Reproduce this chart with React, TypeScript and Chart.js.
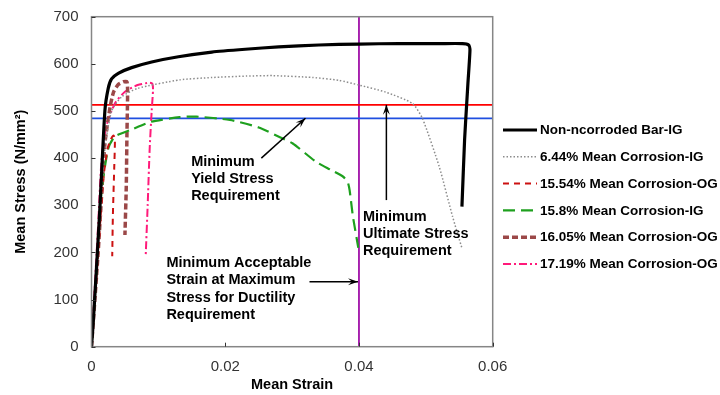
import React, { useEffect, useRef } from "react";
import { Chart, registerables } from "chart.js";

Chart.register(...registerables);

// ---- Data (strain, stress) ----
const blackStrain = [0, 0.0003, 0.0012, 0.002, 0.0025, 0.003, 0.004, 0.006, 0.009, 0.013, 0.018, 0.023, 0.028, 0.034, 0.04, 0.046, 0.052, 0.0555, 0.0564, 0.0566, 0.0563, 0.0561, 0.0558, 0.0554];
const blackStress = [0, 60, 280, 500, 548, 568, 580, 592, 604, 615, 625, 631, 636, 640, 642, 643, 643, 643, 640, 630, 560, 513, 440, 297];

const grayStrain = [0, 0.0012, 0.002, 0.003, 0.0045, 0.0069, 0.0132, 0.018, 0.0232, 0.0271, 0.0331, 0.037, 0.04, 0.044, 0.048, 0.0495, 0.052, 0.054, 0.0554];
const grayStress = [0, 250, 420, 500, 530, 548, 566, 571, 574, 575, 571, 565, 555, 540, 516, 484, 382, 276, 209];

const redStrain = [0, 0.001, 0.0018, 0.0024, 0.0029, 0.0033, 0.0035, 0.0034, 0.0032, 0.0031];
const redStress = [0, 200, 360, 420, 440, 448, 440, 380, 280, 192];

const greenStrain = [0, 0.0008, 0.0015, 0.0025, 0.0035, 0.0059, 0.0089, 0.0132, 0.0157, 0.0207, 0.025, 0.0281, 0.0301, 0.0336, 0.0358, 0.0376, 0.0383, 0.0386, 0.0391, 0.0399];
const greenStress = [0, 170, 330, 420, 446, 460, 477, 487, 488, 481, 465, 445, 431, 392, 375, 361, 350, 332, 276, 210];

const brownStrain = [0, 0.001, 0.002, 0.0028, 0.0033, 0.004, 0.0048, 0.0053, 0.0054, 0.0053, 0.0052, 0.005];
const brownStress = [0, 200, 430, 510, 540, 556, 562, 562, 540, 450, 340, 237];

const pinkStrain = [0, 0.001, 0.0015, 0.0022, 0.0035, 0.005, 0.0069, 0.0087, 0.0091, 0.0092, 0.009, 0.0087, 0.0084, 0.0081];
const pinkStress = [0, 260, 396, 467, 516, 541, 555, 560, 558, 545, 500, 420, 300, 191];

const seriesLabels = [
  "Non-ncorroded Bar-IG",
  "6.44% Mean Corrosion-IG",
  "15.54% Mean Corrosion-OG",
  "15.8% Mean Corrosion-IG",
  "16.05% Mean Corrosion-OG",
  "17.19% Mean Corrosion-OG",
];

const minUltimateStress = 513;
const minYieldStress = 484.5;
const minDuctilityStrain = 0.04;

const xTicks = [0, 0.02, 0.04, 0.06];
const yTicks = [0, 100, 200, 300, 400, 500, 600, 700];

const FONT = "'Liberation Sans', Arial, sans-serif";

const pts = (xs: number[], ys: number[]) => xs.map((x, i) => ({ x, y: ys[i] }));

const styles = [
  { color: "#000000", width: 3.2, dash: [] as number[] },
  { color: "#8c8c8c", width: 1.5, dash: [1.5, 2] },
  { color: "#cc1111", width: 2, dash: [6, 5] },
  { color: "#1ea01e", width: 2.2, dash: [12, 6] },
  { color: "#9b4848", width: 3.5, dash: [6, 3] },
  { color: "#ff1a7a", width: 2, dash: [8, 3, 2, 3] },
];

function arrow(ctx: CanvasRenderingContext2D, x1: number, y1: number, x2: number, y2: number) {
  ctx.save();
  ctx.strokeStyle = "#000";
  ctx.fillStyle = "#000";
  ctx.lineWidth = 1.5;
  ctx.setLineDash([]);
  ctx.beginPath();
  ctx.moveTo(x1, y1);
  ctx.lineTo(x2, y2);
  ctx.stroke();
  const ang = Math.atan2(y2 - y1, x2 - x1);
  const L = 10, W = 3.5;
  ctx.beginPath();
  ctx.moveTo(x2, y2);
  ctx.lineTo(x2 - L * Math.cos(ang) + W * Math.sin(ang), y2 - L * Math.sin(ang) - W * Math.cos(ang));
  ctx.lineTo(x2 - 0.6 * L * Math.cos(ang), y2 - 0.6 * L * Math.sin(ang));
  ctx.lineTo(x2 - L * Math.cos(ang) - W * Math.sin(ang), y2 - L * Math.sin(ang) + W * Math.cos(ang));
  ctx.closePath();
  ctx.fill();
  ctx.restore();
}

const overlay = {
  id: "overlay",
  afterDatasetsDraw(chart: any) {
    const { ctx, chartArea: a, scales } = chart;
    const x = scales.x, y = scales.y;
    ctx.save();
    // plot frame
    ctx.strokeStyle = "#868686";
    ctx.lineWidth = 1.5;
    ctx.setLineDash([]);
    ctx.strokeRect(a.left, a.top, a.right - a.left, a.bottom - a.top);
    // inward tick marks
    ctx.strokeStyle = "#333";
    ctx.lineWidth = 1;
    ctx.beginPath();
    yTicks.forEach((v) => {
      const py = Math.round(y.getPixelForValue(v)) + 0.5;
      ctx.moveTo(a.left, py);
      ctx.lineTo(a.left + 4, py);
    });
    xTicks.forEach((v) => {
      const px = Math.round(x.getPixelForValue(v)) + 0.5;
      ctx.moveTo(px, a.bottom);
      ctx.lineTo(px, a.bottom - 4);
    });
    ctx.stroke();

    // annotations
    const X = (v: number) => x.getPixelForValue(v);
    const Y = (v: number) => y.getPixelForValue(v);
    arrow(ctx, X(0.0254), Y(400), X(0.032), Y(minYieldStress));
    arrow(ctx, X(0.0441), Y(311), X(0.0441), Y(minUltimateStress));
    arrow(ctx, X(0.0326), Y(138), X(minDuctilityStrain) - 1, Y(138));

    ctx.fillStyle = "#000";
    ctx.font = `bold 14.5px ${FONT}`;
    ctx.textAlign = "left";
    ctx.textBaseline = "middle";
    const block = (lines: string[], sx: number, sy: number) => {
      lines.forEach((t, i) => ctx.fillText(t, X(sx), Y(sy) + i * 17.2));
    };
    block(["Minimum", "Yield Stress", "Requirement"], 0.0149, 392);
    block(["Minimum", "Ultimate Stress", "Requirement"], 0.0406, 276);
    block(["Minimum Acceptable", "Strain at Maximum", "Stress for Ductility", "Requirement"], 0.0112, 177);

    // legend
    ctx.font = `bold 13.5px ${FONT}`;
    seriesLabels.forEach((lab, i) => {
      const s = styles[i];
      const ry = 130 + i * 26.8;
      ctx.strokeStyle = s.color;
      ctx.lineWidth = s.width;
      ctx.setLineDash(s.dash);
      ctx.beginPath();
      ctx.moveTo(503, ry);
      ctx.lineTo(537, ry);
      ctx.stroke();
      ctx.setLineDash([]);
      ctx.fillStyle = "#000";
      ctx.fillText(lab, 540, ry + 0.5);
    });
    ctx.restore();
  },
};

export default function App() {
  const ref = useRef<HTMLCanvasElement>(null);
  useEffect(() => {
    if (!ref.current) return;
    const series = [
      pts(blackStrain, blackStress),
      pts(grayStrain, grayStress),
      pts(redStrain, redStress),
      pts(greenStrain, greenStress),
      pts(brownStrain, brownStress),
      pts(pinkStrain, pinkStress),
    ];
    const datasets: any[] = series.map((d, i) => ({
      label: seriesLabels[i],
      data: d,
      borderColor: styles[i].color,
      borderWidth: styles[i].width,
      borderDash: styles[i].dash,
      pointRadius: 0,
      showLine: true,
      fill: false,
      tension: 0.2,
      borderCapStyle: "butt",
      borderJoinStyle: "round",
    }));
    datasets.push(
      { label: "ult", data: [{ x: 0, y: minUltimateStress }, { x: 0.06, y: minUltimateStress }], borderColor: "#ff0000", borderWidth: 1.8, pointRadius: 0, showLine: true },
      { label: "yield", data: [{ x: 0, y: minYieldStress }, { x: 0.06, y: minYieldStress }], borderColor: "#1f4fe0", borderWidth: 1.8, pointRadius: 0, showLine: true },
      { label: "duct", data: [{ x: minDuctilityStrain, y: 0 }, { x: minDuctilityStrain, y: 700 }], borderColor: "#a010a8", borderWidth: 1.8, pointRadius: 0, showLine: true }
    );
    const chart = new Chart(ref.current, {
      type: "scatter",
      data: { datasets },
      options: {
        responsive: false,
        animation: false,
        layout: { padding: { left: 0, top: 16.7, right: 227.3, bottom: 0 } },
        plugins: { legend: { display: false }, tooltip: { enabled: false } },
        scales: {
          x: {
            type: "linear",
            min: 0,
            max: 0.06,
            afterBuildTicks: (s: any) => { s.ticks = xTicks.map((v) => ({ value: v })); },
            afterFit: (s: any) => { s.height = 48.3; s.paddingLeft = 0; s.paddingRight = 0; },
            grid: { display: false, drawTicks: false },
            border: { display: false },
            ticks: { color: "#333", font: { family: FONT, size: 15 }, padding: 11, callback: (v: any) => String(v) },
            title: { display: true, text: "Mean Strain", color: "#000", font: { family: FONT, size: 14.5, weight: "bold" }, padding: { top: 0, bottom: 1.3 } },
          },
          y: {
            type: "linear",
            min: 0,
            max: 700,
            afterBuildTicks: (s: any) => { s.ticks = yTicks.map((v) => ({ value: v })); },
            afterFit: (s: any) => { s.width = 91.5; s.paddingTop = 0; s.paddingBottom = 0; },
            grid: { display: false, drawTicks: false },
            border: { display: false },
            ticks: { color: "#333", font: { family: FONT, size: 15 }, padding: 13 },
            title: { display: true, text: "Mean Stress (N/mm²)", color: "#000", font: { family: FONT, size: 14.5, weight: "bold" }, padding: { top: 12, bottom: 0 } },
          },
        },
      },
      plugins: [overlay],
    } as any);
    return () => chart.destroy();
  }, []);
  return (
    <div style={{ position: "absolute", left: 0, top: 0, width: 720, height: 395, background: "#fff" }}>
      <canvas ref={ref} width={720} height={395} style={{ display: "block" }} />
    </div>
  );
}
